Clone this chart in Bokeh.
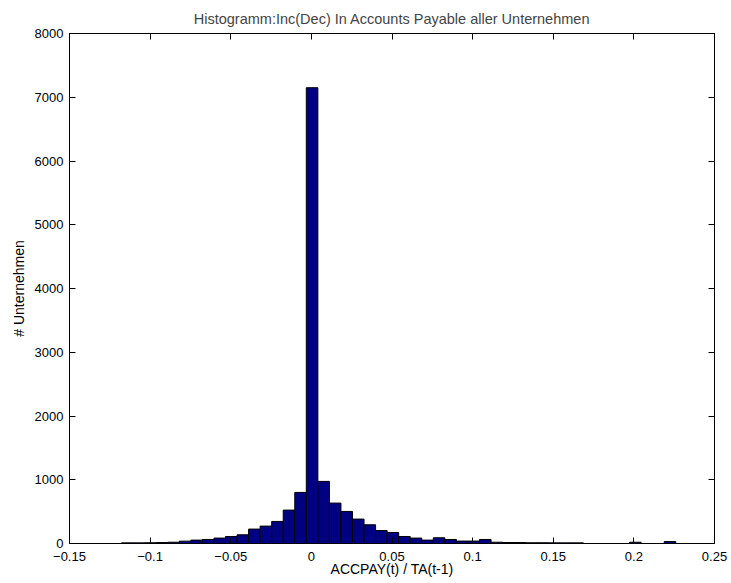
from bokeh.plotting import figure
from bokeh.models import LinearAxis, FixedTicker, NumeralTickFormatter, Range1d
from bokeh.embed import file_html
from bokeh.resources import INLINE
import numpy as np

# Histogram definition
bin_start = -0.1177
bin_width = 0.00716
counts = [10, 10, 12, 15, 20, 37, 53, 63, 85, 110, 137, 226, 273, 346, 524, 801,
          7150,
          974, 634, 503, 383, 294, 204, 173, 110, 85, 53, 90, 63, 38, 38, 63,
          20, 15, 15, 12, 12, 10, 10, 10, 0, 0, 0, 0, 20, 0, 0, 30]

x_ticks = [-0.15, -0.1, -0.05, 0, 0.05, 0.1, 0.15, 0.2, 0.25]
x_tick_labels = ["\u22120.15", "\u22120.1", "\u22120.05", "0", "0.05", "0.1", "0.15", "0.2", "0.25"]
y_ticks = [0, 1000, 2000, 3000, 4000, 5000, 6000, 7000, 8000]

title_text = "Histogramm:Inc(Dec) In Accounts Payable aller Unternehmen"
x_label = "ACCPAY(t) / TA(t-1)"
y_label = "# Unternehmen"

centers = bin_start + bin_width * (np.arange(len(counts)) + 0.5)

FONT = "Liberation Sans"

p = figure(width=731, height=583, output_backend="svg", toolbar_location=None,
           x_range=Range1d(-0.15, 0.25), y_range=Range1d(0, 8000),
           min_border_left=69, min_border_right=17, min_border_top=33, min_border_bottom=40,
           x_axis_location=None, y_axis_location=None)

p.title.text = title_text
p.title.align = "center"
p.title.text_font = FONT
p.title.text_font_size = "14.5px"
p.title.text_font_style = "normal"
p.title.offset = 4
p.title.standoff = 13

p.vbar(x=centers, top=counts, width=bin_width, bottom=0,
       fill_color="#000080", line_color="black", line_width=1)

p.grid.visible = False
p.outline_line_color = "black"
p.outline_line_width = 1
p.background_fill_color = "white"
p.border_fill_color = "white"


def make_axis(kind, loc, labels):
    ax = LinearAxis()
    ticks = x_ticks if kind == "x" else y_ticks
    ax.ticker = FixedTicker(ticks=ticks)
    ax.major_tick_in = 6
    ax.major_tick_out = 0
    ax.minor_tick_line_color = None
    ax.axis_line_color = "black"
    ax.major_tick_line_color = "black"
    if labels:
        if kind == "x":
            ax.formatter = NumeralTickFormatter(format="0.[00]")
            ax.major_label_overrides = dict(zip(x_ticks, x_tick_labels))
        else:
            ax.formatter = NumeralTickFormatter(format="0")
        ax.major_label_text_font = FONT
        ax.major_label_text_font_size = "13px"
        ax.major_label_text_color = "black"
        ax.axis_label = x_label if kind == "x" else y_label
        ax.axis_label_text_font = FONT
        ax.axis_label_text_font_size = "14px"
        ax.axis_label_text_font_style = "normal"
        ax.axis_label_text_color = "black"
        if kind == "x":
            ax.major_label_standoff = 8
            ax.axis_label_standoff = -3
        else:
            ax.major_label_standoff = 6
            ax.axis_label_standoff = 5
    else:
        ax.major_label_text_font_size = "0px"
        ax.major_label_text_color = None
        ax.major_label_standoff = 0
    p.add_layout(ax, loc)


make_axis("x", "below", True)
make_axis("y", "left", True)
make_axis("x", "above", False)
make_axis("y", "right", False)

open("out.html", "w").write(file_html(p, INLINE))
